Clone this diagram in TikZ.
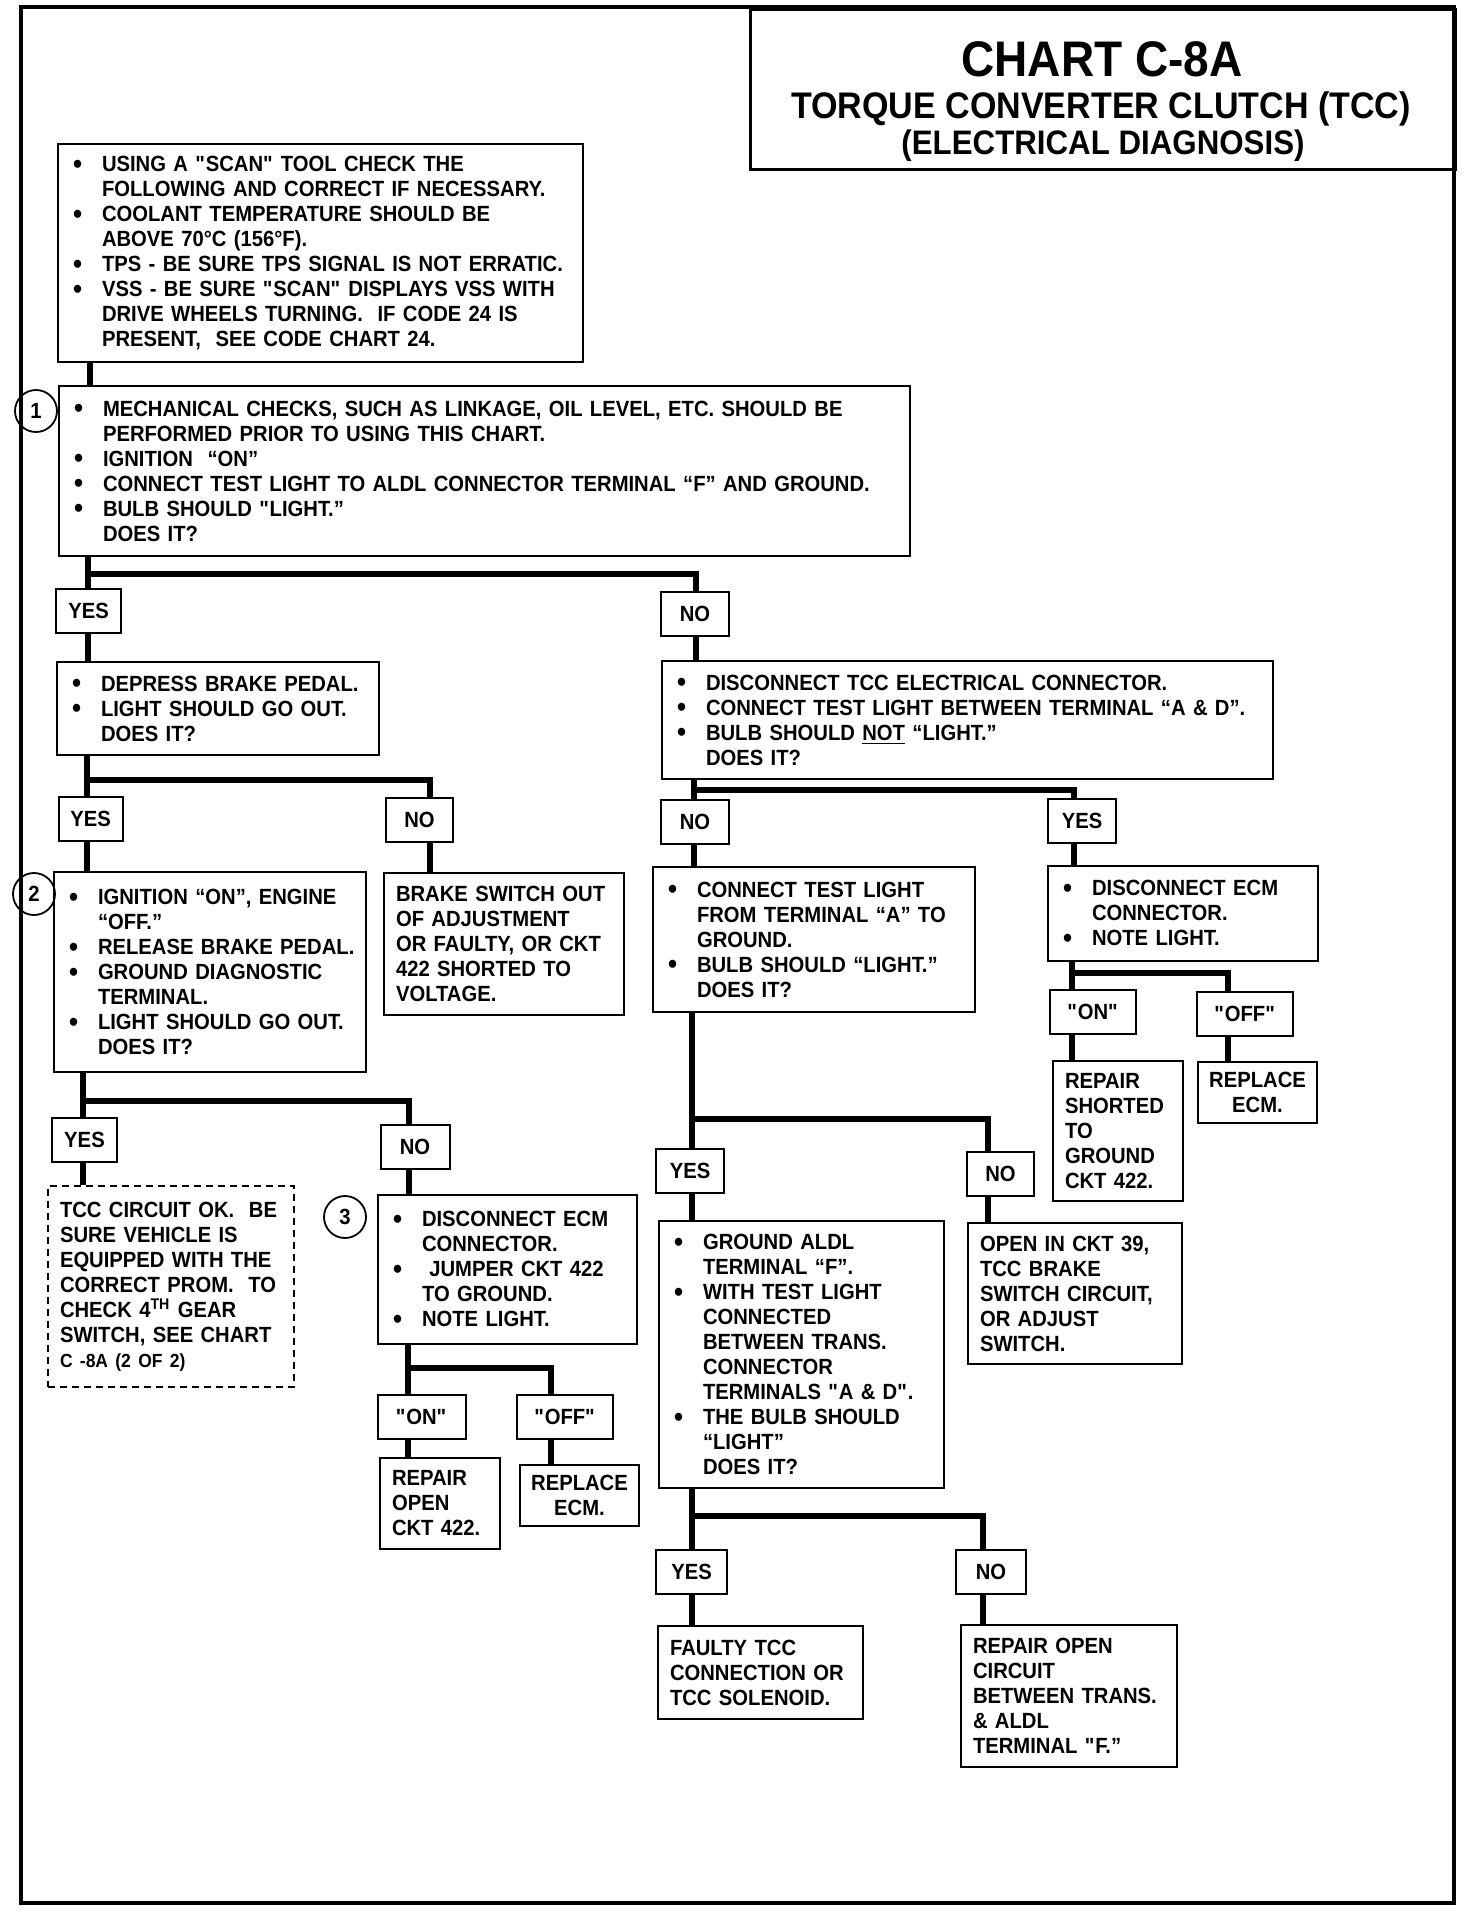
\documentclass[tikz,border=0pt]{standalone}
\usepackage{fontspec}
\setmainfont{Liberation Sans}[FakeStretch=0.92]
\newcommand\bodyfont{\fontsize{11}{12.5}\selectfont\bfseries}
\newcommand\dotitem{\hspace*{3.6pt}\makebox[14.4pt][l]{\raisebox{-0.9pt}{\fontsize{14}{12.5}\selectfont\textbullet}}}
\newcommand\dotcont{\hspace*{18pt}}
\newcommand\qq{\textquotedbl}

\begin{document}
\begin{tikzpicture}[
    x=0.5pt, y=-0.5pt,
    stepbox/.style={rectangle, draw, line width=1pt, anchor=north west, align=left,
                    inner xsep=4pt, inner ysep=2pt, font=\bodyfont},
    notebox/.style={stepbox, inner xsep=6pt},
    fixbox/.style ={rectangle, draw, line width=1pt, anchor=north west, align=center,
                    inner sep=2pt, font=\bodyfont},
    answer/.style ={rectangle, draw, line width=1pt, minimum height=22pt, inner sep=1pt, font=\bodyfont},
    marker/.style ={circle, draw, line width=0.9pt, minimum size=21pt, inner sep=0pt, font=\bodyfont},
    link/.style   ={line width=3pt},
]
\useasboundingbox (0,0) rectangle (1472,1912);

% page frame and title
\draw[line width=2pt] (21,7) rectangle (1454,1903);
\node[rectangle, draw, line width=1.3pt, anchor=north west, minimum width=352.5pt, minimum height=80pt] (title) at (749,8) {};
\node[anchor=base, font=\fontsize{25}{30}\selectfont\bfseries]   (titleA) at (1102,76)  {CHART C-8A};
\node[anchor=base, font=\fontsize{18.5}{22}\selectfont\bfseries] (titleB) at (1101,118) {TORQUE CONVERTER CLUTCH (TCC)};
\node[anchor=base, font=\fontsize{17}{20}\selectfont\bfseries]   (titleC) at (1103,154) {(ELECTRICAL DIAGNOSIS)};

% =====================================================
% LEFT COLUMN
% =====================================================
\node[stepbox, text width=254.5pt, minimum height=109pt] (chkA) at (57,143) {%
\dotitem USING A \qq SCAN\qq\ TOOL CHECK THE\\
\dotcont FOLLOWING AND CORRECT IF NECESSARY.\\
\dotitem COOLANT TEMPERATURE SHOULD BE\\
\dotcont ABOVE 70°C (156°F).\\
\dotitem TPS - BE SURE TPS SIGNAL IS NOT ERRATIC.\\
\dotitem VSS - BE SURE \qq SCAN\qq\ DISPLAYS VSS WITH\\
\dotcont DRIVE WHEELS TURNING.\ \ IF CODE 24 IS\\
\dotcont PRESENT,\ \ SEE CODE CHART 24.};

\node[stepbox, text width=417.5pt, minimum height=85pt] (chkB) at (58,385) {%
\dotitem MECHANICAL CHECKS, SUCH AS LINKAGE, OIL LEVEL, ETC. SHOULD BE\\
\dotcont PERFORMED PRIOR TO USING THIS CHART.\\
\dotitem IGNITION\ \ ``ON''\\
\dotitem CONNECT TEST LIGHT TO ALDL CONNECTOR TERMINAL ``F'' AND GROUND.\\
\dotitem BULB SHOULD \qq LIGHT.''\\
\dotcont DOES IT?};
\node[marker] (mkA) at (36,411) {1};

\node[stepbox, text width=153pt, minimum height=46.5pt] (chkC) at (56,661) {%
\dotitem DEPRESS BRAKE PEDAL.\\
\dotitem LIGHT SHOULD GO OUT.\\
\dotcont DOES IT?};

\node[stepbox, text width=148pt, minimum height=100pt] (chkD) at (53,871) {%
\dotitem IGNITION ``ON'', ENGINE\\
\dotcont ``OFF.''\\
\dotitem RELEASE BRAKE PEDAL.\\
\dotitem GROUND DIAGNOSTIC\\
\dotcont TERMINAL.\\
\dotitem LIGHT SHOULD GO OUT.\\
\dotcont DOES IT?};
\node[marker] (mkB) at (34,894) {2};

\node[notebox, text width=108pt, minimum height=71pt] (noteE) at (383,872) {%
BRAKE SWITCH OUT\\
OF ADJUSTMENT\\
OR FAULTY, OR CKT\\
422 SHORTED TO\\
VOLTAGE.};

\node[notebox, dash pattern=on 3.5pt off 2.5pt, text width=111pt, minimum height=100.5pt] (noteF) at (47,1185) {%
TCC CIRCUIT OK.\ \ BE\\
SURE VEHICLE IS\\
EQUIPPED WITH THE\\
CORRECT PROM.\ \ TO\\
CHECK 4\textsuperscript{TH} GEAR\\
SWITCH, SEE CHART\\
{\fontsize{9.5}{12}\selectfont C -8A (2 OF 2)}};

\node[stepbox, text width=121.5pt, minimum height=74.5pt] (chkG) at (377,1194) {%
\dotitem DISCONNECT ECM\\
\dotcont CONNECTOR.\\
\dotitem \ JUMPER CKT 422\\
\dotcont TO GROUND.\\
\dotitem NOTE LIGHT.};
\node[marker] (mkC) at (345,1217) {3};

\node[notebox, text width=48pt, minimum height=45.5pt] (fixA) at (379,1457) {%
REPAIR\\
OPEN\\
CKT 422.};
\node[fixbox, minimum width=59.5pt, minimum height=30.5pt] (repA) at (519,1464) {REPLACE\\ECM.};

% =====================================================
% RIGHT COLUMN
% =====================================================
\node[stepbox, text width=297.5pt, minimum height=59pt] (chkH) at (661,660) {%
\dotitem DISCONNECT TCC ELECTRICAL CONNECTOR.\\
\dotitem CONNECT TEST LIGHT BETWEEN TERMINAL ``A \& D''.\\
\dotitem BULB SHOULD \underline{NOT} ``LIGHT.''\\
\dotcont DOES IT?};

\node[stepbox, text width=153pt, minimum height=72.5pt] (chkI) at (652,866) {%
\dotitem CONNECT TEST LIGHT\\
\dotcont FROM TERMINAL ``A'' TO\\
\dotcont GROUND.\\
\dotitem BULB SHOULD ``LIGHT.''\\
\dotcont DOES IT?};

\node[stepbox, text width=127pt, minimum height=47.5pt] (chkJ) at (1047,865) {%
\dotitem DISCONNECT ECM\\
\dotcont CONNECTOR.\\
\dotitem NOTE LIGHT.};

\node[notebox, text width=53pt, minimum height=70pt] (fixB) at (1052,1060) {%
REPAIR\\
SHORTED\\
TO\\
GROUND\\
CKT 422.};
\node[fixbox, minimum width=59.5pt, minimum height=30.5pt] (repB) at (1197,1061) {REPLACE\\ECM.};

\node[stepbox, text width=134.5pt, minimum height=133.5pt] (chkK) at (658,1220) {%
\dotitem GROUND ALDL\\
\dotcont TERMINAL ``F''.\\
\dotitem WITH TEST LIGHT\\
\dotcont CONNECTED\\
\dotcont BETWEEN TRANS.\\
\dotcont CONNECTOR\\
\dotcont TERMINALS \qq A \& D\qq.\\
\dotitem THE BULB SHOULD\\
\dotcont ``LIGHT''\\
\dotcont DOES IT?};

\node[notebox, text width=95pt, minimum height=70.5pt] (noteL) at (967,1222) {%
OPEN IN CKT 39,\\
TCC BRAKE\\
SWITCH CIRCUIT,\\
OR ADJUST\\
SWITCH.};

\node[notebox, text width=90.5pt, minimum height=46.5pt] (noteM) at (657,1625) {%
FAULTY TCC\\
CONNECTION OR\\
TCC SOLENOID.};

\node[notebox, text width=96pt, minimum height=71pt] (noteN) at (960,1624) {%
REPAIR OPEN\\
CIRCUIT\\
BETWEEN TRANS.\\
\& ALDL\\
TERMINAL \qq F.''};

% =====================================================
% Answer boxes
% =====================================================
\node[answer, minimum width=32.5pt] (yesA) at (88.5,610.5)  {YES};
\node[answer, minimum width=34pt]   (noA)  at (695,613.5)   {NO};
\node[answer, minimum width=32pt]   (yesB) at (90.5,818.5)  {YES};
\node[answer, minimum width=33.5pt] (noB)  at (419.5,819.5) {NO};
\node[answer, minimum width=32.5pt] (yesC) at (84.5,1140)   {YES};
\node[answer, minimum width=34.5pt] (noC)  at (415,1147)    {NO};
\node[answer, minimum width=44pt]   (onA)  at (421.5,1417)  {\qq ON\qq};
\node[answer, minimum width=48pt]   (offA) at (565,1417)    {\qq OFF\qq};
\node[answer, minimum width=34pt]   (noD)  at (695,822)     {NO};
\node[answer, minimum width=34pt]   (yesD) at (1082,820.5)  {YES};
\node[answer, minimum width=43pt]   (onB)  at (1093,1012)   {\qq ON\qq};
\node[answer, minimum width=48pt]   (offB) at (1245,1014)   {\qq OFF\qq};
\node[answer, minimum width=34pt]   (yesE) at (690,1170.5)  {YES};
\node[answer, minimum width=33.5pt] (noE)  at (1000.5,1174) {NO};
\node[answer, minimum width=35.5pt] (yesF) at (691.5,1571.5){YES};
\node[answer, minimum width=35pt]   (noF)  at (991,1572)    {NO};

% =====================================================
% Connecting lines
% =====================================================
\coordinate (jA) at (90,373);
\draw[link] (jA |- chkA.south) -- (jA |- chkB.north);

% B: yes / no
\coordinate (jB) at (88,574);  \coordinate (jBr) at (696,574);
\draw[link] (jB |- chkB.south) -- (jB |- yesA.north) (jB) -- (jBr) -- (jBr |- noA.north);
\draw[link] (jB |- yesA.south) -- (jB |- chkC.north);
\draw[link] (jBr |- noA.south) -- (jBr |- chkH.north);

% C: yes / no
\coordinate (jC) at (87,780);  \coordinate (jCr) at (430,780);
\draw[link] (jC |- chkC.south) -- (jC |- yesB.north) (jC) -- (jCr) -- (jCr |- noB.north);
\draw[link] (jC |- yesB.south) -- (jC |- chkD.north);
\draw[link] (jCr |- noB.south) -- (jCr |- noteE.north);

% D: yes / no
\coordinate (jD) at (83,1101);  \coordinate (jDr) at (409,1101);
\draw[link] (jD |- chkD.south) -- (jD |- yesC.north) (jD) -- (jDr) -- (jDr |- noC.north);
\draw[link] (jD |- yesC.south) -- (jD |- noteF.north);
\draw[link] (jDr |- noC.south) -- (jDr |- chkG.north);

% G: on / off
\coordinate (jG) at (408,1368);  \coordinate (jGr) at (551,1368);
\draw[link] (jG |- chkG.south) -- (jG |- onA.north) (jG) -- (jGr) -- (jGr |- offA.north);
\draw[link] (jG |- onA.south) -- (jG |- fixA.north);
\draw[link] (jGr |- offA.south) -- (jGr |- repA.north);

% H: no / yes
\coordinate (jH) at (694,790);  \coordinate (jHr) at (1074,790);
\draw[link] (jH |- chkH.south) -- (jH |- noD.north) (jH) -- (jHr) -- (jHr |- yesD.north);
\draw[link] (jH |- noD.south) -- (jH |- chkI.north);
\draw[link] (jHr |- yesD.south) -- (jHr |- chkJ.north);

% J: on / off
\coordinate (jJ) at (1072,973);  \coordinate (jJr) at (1228,973);
\draw[link] (jJ |- chkJ.south) -- (jJ |- onB.north) (jJ) -- (jJr) -- (jJr |- offB.north);
\draw[link] (jJ |- onB.south) -- (jJ |- fixB.north);
\draw[link] (jJr |- offB.south) -- (jJr |- repB.north);

% I: yes / no
\coordinate (jI) at (692,1119);  \coordinate (jIr) at (988,1119);
\draw[link] (jI |- chkI.south) -- (jI |- yesE.north) (jI) -- (jIr) -- (jIr |- noE.north);
\draw[link] (jI |- yesE.south) -- (jI |- chkK.north);
\draw[link] (jIr |- noE.south) -- (jIr |- noteL.north);

% K: yes / no
\coordinate (jK) at (692,1516);  \coordinate (jKr) at (983,1516);
\draw[link] (jK |- chkK.south) -- (jK |- yesF.north) (jK) -- (jKr) -- (jKr |- noF.north);
\draw[link] (jK |- yesF.south) -- (jK |- noteM.north);
\draw[link] (jKr |- noF.south) -- (jKr |- noteN.north);

\end{tikzpicture}
\end{document}
